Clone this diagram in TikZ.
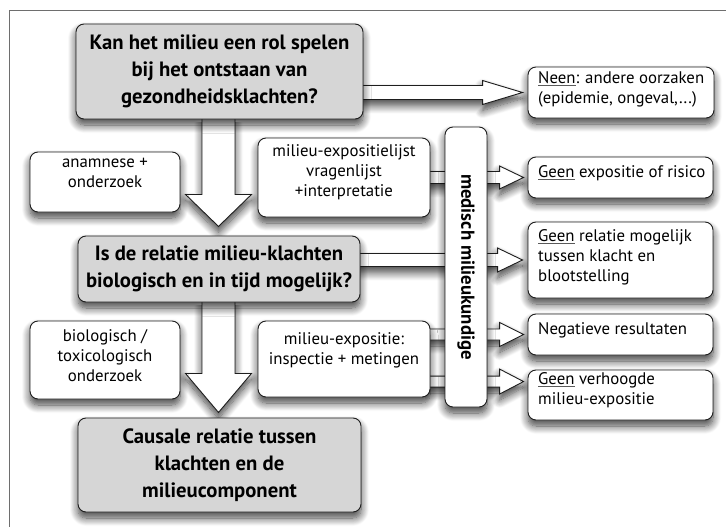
\documentclass[tikz,border=0pt]{standalone}
\usepackage{fontspec}
\setmainfont{PT Sans}
\usetikzlibrary{shadows.blur,calc}
\definecolor{boxgray}{RGB}{214,214,214}
\definecolor{edge}{RGB}{30,30,30}
\definecolor{framegray}{RGB}{110,110,110}
\definecolor{ulgray}{RGB}{90,90,90}
\newcommand\undl[1]{\textcolor{ulgray}{\underline{\textcolor{black}{#1}}}}
\pgfdeclarelayer{bg}
\pgfsetlayers{bg,main}
\tikzset{
  softshadow/.style={blur shadow={shadow xshift=0pt, shadow yshift=-6pt, shadow blur radius=8pt, shadow blur steps=12, shadow opacity=75}},
  anybox/.style={draw=edge, line width=0.9pt, rounded corners=8pt, inner sep=0pt, softshadow},
  mainbox/.style={anybox, fill=boxgray, font=\fontsize{20.7}{27}\selectfont\bfseries, align=center},
  sidebox/.style={anybox, fill=white},
  txt/.style={inner sep=0pt, font=\fontsize{16.8}{20}\selectfont},
  ctxt/.style={txt, align=center},
  ltxt/.style={txt, align=left, anchor=west},
  fat/.style={draw=edge, line width=0.9pt, fill=white, line join=miter, softshadow},
}
\begin{document}
\begin{tikzpicture}[x=1pt,y=-1pt]
\useasboundingbox (0,0) rectangle (726,527);
\draw[framegray, line width=1pt] (9,527) -- (9,11) -- (726,11);

% main boxes
\node[mainbox, minimum width=287pt, minimum height=95pt] (b1) at (219.5,71.5) {Kan het milieu een rol spelen\\bij het ontstaan van\\gezondheidsklachten?};
\node[mainbox, minimum width=282pt, minimum height=66pt] (b2) at (219,269) {Is de relatie milieu-klachten\\biologisch en in tijd mogelijk?};
\node[mainbox, minimum width=283pt, minimum height=94pt] (b3) at (219.5,465) {Causale relatie tussen\\klachten en de\\milieucomponent};

% side boxes
\node[sidebox, minimum width=150pt, minimum height=60pt] (l1) at (105,182) {};
\node[ctxt] (l1t) at (105,172.5) {anamnese +\\onderzoek};
\node[sidebox, minimum width=150pt, minimum height=78pt] (l2) at (105,360) {};
\node[ctxt] (l2t) at (105,355.5) {biologisch /\\toxicologisch\\onderzoek};
\node[sidebox, minimum width=172pt, minimum height=79pt] (m1) at (344,177.5) {};
\node[ctxt] (m1t) at (344,172.5) {milieu-expositielijst\\vragenlijst\\+interpretatie};
\node[sidebox, minimum width=172pt, minimum height=76pt] (m2) at (344,359) {};
\node[ctxt] (m2t) at (344,350.5) {milieu-expositie:\\inspectie + metingen};

% vertical box
\node[sidebox, rotate=-90, minimum width=280pt, minimum height=42pt, font=\fontsize{18.8}{20}\selectfont\bfseries] (v) at (466,267) {medisch milieukundige};

% right boxes
\node[sidebox, minimum width=186pt, minimum height=51pt] (r1) at (621,92.5) {};
\node[ltxt] (r1t) at (538,89) {\undl{Neen}: andere oorzaken\\(epidemie, ongeval,...)};
\node[sidebox, minimum width=185pt, minimum height=41pt] (r2) at (620.5,177.5) {};
\node[ltxt] (r2t) at (538,173) {\undl{Geen} expositie of risico};
\node[sidebox, minimum width=185pt, minimum height=76pt] (r3) at (620.5,260) {};
\node[ltxt] (r3t) at (538,257) {\undl{Geen} relatie mogelijk\\tussen klacht en\\blootstelling};
\node[sidebox, minimum width=185pt, minimum height=41pt] (r4) at (620.5,334.5) {};
\node[ltxt] (r4t) at (538,330) {Negatieve resultaten};
\node[sidebox, minimum width=185pt, minimum height=50pt] (r5) at (620.5,395) {};
\node[ltxt] (r5t) at (538,390.5) {\undl{Geen} verhoogde\\milieu-expositie};

% arrows (behind boxes)
\begin{pgfonlayer}{bg}
% vertical fat arrows
\coordinate (a1) at ($(b1.south)+(-1,-3)$);
\draw[fat] ($(a1)+(-16.5,0)$) -- ($(a1)+(-16.5,78)$) -- ($(a1)+(-33,78)$) -- ($(a1)+(0,110)$) -- ($(a1)+(33,78)$) -- ($(a1)+(16.5,78)$) -- ($(a1)+(16.5,0)$);
\coordinate (a2) at ($(b2.south)+(-0.5,-3)$);
\draw[fat] ($(a2)+(-16.5,0)$) -- ($(a2)+(-16.5,74)$) -- ($(a2)+(-33,74)$) -- ($(a2)+(0,113)$) -- ($(a2)+(33,74)$) -- ($(a2)+(16.5,74)$) -- ($(a2)+(16.5,0)$);
% horizontal fat arrows
\coordinate (h1) at ($(r1.west)+(-5,0)$);
\draw[fat] ($(b1.east |- h1)+(-5,-7)$) -- ($(h1)+(-40,-7)$) -- ($(h1)+(-40,-12)$) -- (h1) -- ($(h1)+(-40,12)$) -- ($(h1)+(-40,7)$) -- ($(b1.east |- h1)+(-5,7)$);
\coordinate (h2) at ($(r2.west)+(-4,0)$);
\draw[fat] ($(m1.east |- h2)+(-5,-6)$) -- ($(h2)+(-24,-6)$) -- ($(h2)+(-24,-11.5)$) -- (h2) -- ($(h2)+(-24,11.5)$) -- ($(h2)+(-24,6)$) -- ($(m1.east |- h2)+(-5,6)$);
\coordinate (h3) at ($(r3.west)+(-5,0)$);
\draw[fat] ($(b2.east |- h3)+(-5,-6.5)$) -- ($(h3)+(-25,-6.5)$) -- ($(h3)+(-25,-12)$) -- (h3) -- ($(h3)+(-25,12)$) -- ($(h3)+(-25,6.5)$) -- ($(b2.east |- h3)+(-5,6.5)$);
\coordinate (h4) at ($(r4.west)+(-4,0)$);
\draw[fat] ($(m2.east |- h4)+(-5,-5.5)$) -- ($(h4)+(-24,-5.5)$) -- ($(h4)+(-24,-12)$) -- (h4) -- ($(h4)+(-24,12)$) -- ($(h4)+(-24,5.5)$) -- ($(m2.east |- h4)+(-5,5.5)$);
\coordinate (h5) at ($(r5.north west)+(-4,12)$);
\draw[fat] ($(m2.east |- h5)+(-5,-5.5)$) -- ($(h5)+(-24,-5.5)$) -- ($(h5)+(-24,-12.5)$) -- (h5) -- ($(h5)+(-24,12.5)$) -- ($(h5)+(-24,5.5)$) -- ($(m2.east |- h5)+(-5,5.5)$);
\end{pgfonlayer}
\end{tikzpicture}
\end{document}
